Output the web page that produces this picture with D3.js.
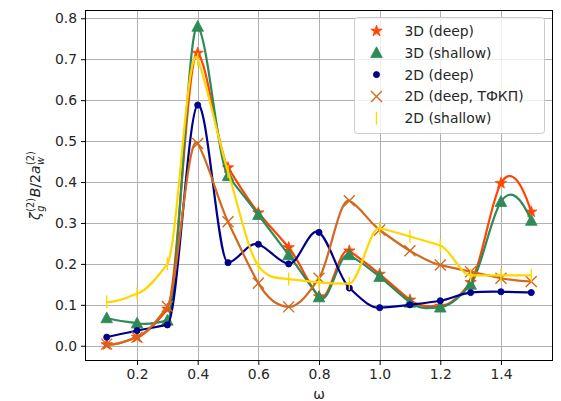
<!DOCTYPE html>
<html><head><meta charset="utf-8">
<script src="https://cdn.jsdelivr.net/npm/d3@7"></script>
<style>
body{margin:0;background:#fff;}
text{font-family:"DejaVu Sans",sans-serif;fill:#262626;}
</style></head>
<body><svg id="c" width="561" height="401"></svg>
<script>
const omega = [0.1,0.2,0.3,0.4,0.5,0.6,0.7,0.8,0.9,1.0,1.1,1.2,1.3,1.4,1.5];
const deep3D    = [0.003,0.021,0.090,0.715,0.435,0.325,0.240,0.120,0.232,0.175,0.112,0.097,0.155,0.397,0.327];
const shallow3D = [0.068,0.055,0.062,0.780,0.415,0.320,0.222,0.119,0.222,0.169,0.106,0.094,0.150,0.352,0.306];
const deep2D    = [0.021,0.037,0.051,0.588,0.203,0.248,0.200,0.277,0.141,0.093,0.100,0.110,0.130,0.132,0.130];
const tfkp2D    = [0.004,0.021,0.096,0.494,0.303,0.153,0.095,0.165,0.354,0.283,0.232,0.197,0.181,0.165,0.157];
const shallow2D = [0.107,0.127,0.200,0.700,0.425,0.195,0.163,0.155,0.152,0.287,0.267,0.245,0.172,0.172,0.172];
const xTicks = [0.2,0.4,0.6,0.8,1.0,1.2,1.4];
const yTicks = [0.0,0.1,0.2,0.3,0.4,0.5,0.6,0.7,0.8];
const seriesNames = ["3D (deep)","3D (shallow)","2D (deep)","2D (deep, ТФКП)","2D (shallow)"];
const seriesColors = ["#FF4500","#2E8B57","#00008B","#D2691E","#FFD700"];
const seriesMarkers = ["star","triangle","dot","x","vline"];
const seriesData = [deep3D, shallow3D, deep2D, tfkp2D, shallow2D];

// Akima-style curve for d3.line (tangents per Akima, drawn as cubic Béziers)
function curveAkima(context){
  let xs=[], ys=[];
  return {
    areaStart(){}, areaEnd(){},
    lineStart(){ xs=[]; ys=[]; },
    point(px,py){ xs.push(+px); ys.push(+py); },
    lineEnd(){
      const n = xs.length;
      if(n===0) return;
      context.moveTo(xs[0],ys[0]);
      if(n===1) return;
      if(n===2){ context.lineTo(xs[1],ys[1]); return; }
      const m = new Array(n+3);
      for(let k=0;k<n-1;k++) m[k+2] = (ys[k+1]-ys[k])/(xs[k+1]-xs[k]);
      m[1] = 2*m[2]-m[3]; m[0] = 2*m[1]-m[2];
      m[n+1] = 2*m[n]-m[n-1]; m[n+2] = 2*m[n+1]-m[n];
      const dm = []; for(let k=0;k<n+2;k++) dm.push(Math.abs(m[k+1]-m[k]));
      const t = [];
      let maxf = 0;
      for(let i=0;i<n;i++) maxf = Math.max(maxf, dm[i+2]+dm[i]);
      for(let i=0;i<n;i++){
        const f1 = dm[i+2], f2 = dm[i], f12 = f1+f2;
        if(f12 > 1e-9*maxf) t.push((f1*m[i+1]+f2*m[i+2])/f12);
        else t.push(0.5*(m[i+1]+m[i+2]));
      }
      for(let i=0;i<n-1;i++){
        const h = (xs[i+1]-xs[i])/3;
        context.bezierCurveTo(xs[i]+h, ys[i]+h*t[i], xs[i+1]-h, ys[i+1]-h*t[i+1], xs[i+1], ys[i+1]);
      }
    }
  };
}

const svg = d3.select("#c");
const L=85.5, R=552.5, T=10.5, B=360.5;
const x = d3.scaleLinear().domain([0.03,1.57]).range([L,R]);
const y = d3.scaleLinear().domain([-0.036,0.819]).range([B,T]);

// grid
const g = svg.append("g");
g.selectAll(".gx").data(xTicks).enter().append("line")
  .attr("x1",d=>Math.round(x(d))+0.5).attr("x2",d=>Math.round(x(d))+0.5).attr("y1",T).attr("y2",B)
  .attr("stroke","#b0b0b0").attr("stroke-width",1);
g.selectAll(".gy").data(yTicks).enter().append("line")
  .attr("y1",d=>Math.round(y(d))+0.5).attr("y2",d=>Math.round(y(d))+0.5).attr("x1",L).attr("x2",R)
  .attr("stroke","#b0b0b0").attr("stroke-width",1);

function markerPath(type){
  if(type==="star") return d3.symbol(d3.symbolStar, 40)();
  if(type==="triangle") return "M0,-6L-5.8,4.8L5.8,4.8Z";
  if(type==="dot") return d3.symbol(d3.symbolCircle, 30)();
  if(type==="x") return "M-5.5,-5.5L5.5,5.5M-5.5,5.5L5.5,-5.5";
  if(type==="vline") return "M0,-6.5L0,6.5";
}
function drawMarker(sel, type, color){
  const p = sel.append("path").attr("d", markerPath(type));
  if(type==="x"||type==="vline") p.attr("fill","none").attr("stroke",color).attr("stroke-width",1.4);
  else p.attr("fill",color).attr("stroke",color).attr("stroke-width",0.8);
}

const line = d3.line().x((d,i)=>x(omega[i])).y(d=>y(d)).curve(curveAkima);
const plot = svg.append("g");
seriesData.forEach((vals,k)=>{
  plot.append("path").attr("d",line(vals)).attr("fill","none")
    .attr("stroke",seriesColors[k]).attr("stroke-width",2.2).attr("stroke-linejoin","round");
  vals.forEach((v,i)=>{
    const mg = plot.append("g").attr("transform",`translate(${x(omega[i])},${y(v)})`);
    drawMarker(mg, seriesMarkers[k], seriesColors[k]);
  });
});

// axes frame
svg.append("rect").attr("x",L).attr("y",T).attr("width",R-L).attr("height",B-T)
  .attr("fill","none").attr("stroke","#000").attr("stroke-width",1);

const xAxis = d3.axisBottom(x).tickValues(xTicks).tickFormat(d3.format(".1f")).tickSize(4.5).tickPadding(4);
const yAxis = d3.axisLeft(y).tickValues(yTicks).tickFormat(d3.format(".1f")).tickSize(4.5).tickPadding(4);
const gxA = svg.append("g").attr("transform",`translate(0,${B})`).call(xAxis);
const gyA = svg.append("g").attr("transform",`translate(${L},0)`).call(yAxis);
[gxA,gyA].forEach(a=>{
  a.select(".domain").remove();
  a.selectAll("line").attr("stroke","#000");
  a.selectAll("text").style("font-family","DejaVu Sans").style("font-size","13.9px").attr("fill","#262626");
});

// x label
svg.append("text").attr("x",(L+R)/2).attr("y",399).attr("text-anchor","middle")
  .style("font-size","13.9px").text("ω");

// y label (mathtext)
const yl = svg.append("g");
let cx = 0;
function addT(txt, size, dy, italic){
  return yl.append("text").attr("x",cx).attr("y",dy).style("font-size",size+"px")
    .style("font-style",italic?"italic":"normal").text(txt);
}
let t1 = addT("ζ",14,0,true); cx += t1.node().getComputedTextLength()+0.5;
let s1 = addT("(2)",9.8,-6,false); let s1w = s1.node().getComputedTextLength();
let b1 = addT("g",9.8,4,true); let b1w = b1.node().getComputedTextLength();
cx += Math.max(s1w,b1w)+0.5;
let t2 = addT("B",14,0,true); cx += t2.node().getComputedTextLength();
let t3 = addT("/",14,0,false); cx += t3.node().getComputedTextLength();
let t4 = addT("2",14,0,false); cx += t4.node().getComputedTextLength();
let t5 = addT("a",14,0,true); cx += t5.node().getComputedTextLength()+0.5;
let s2 = addT("(2)",9.8,-6,false); let s2w = s2.node().getComputedTextLength();
let b2 = addT("w",9.8,4,true); let b2w = b2.node().getComputedTextLength();
cx += Math.max(s2w,b2w);
yl.attr("transform",`translate(40,${(T+B)/2}) rotate(-90) translate(${-cx/2},0)`);

// legend
const lg = svg.append("g");
lg.append("rect").attr("x",354.5).attr("y",17.5).attr("width",190).attr("height",116).attr("rx",3)
  .attr("fill","#fff").attr("fill-opacity",0.8).attr("stroke","#cccccc");
seriesNames.forEach((nm,k)=>{
  const yy = 31 + k*21.8;
  const mg = lg.append("g").attr("transform",`translate(376.5,${yy})`);
  drawMarker(mg, seriesMarkers[k], seriesColors[k]);
  lg.append("text").attr("x",404.5).attr("y",yy+5).style("font-size","13.9px").text(nm);
});
</script></body></html>
